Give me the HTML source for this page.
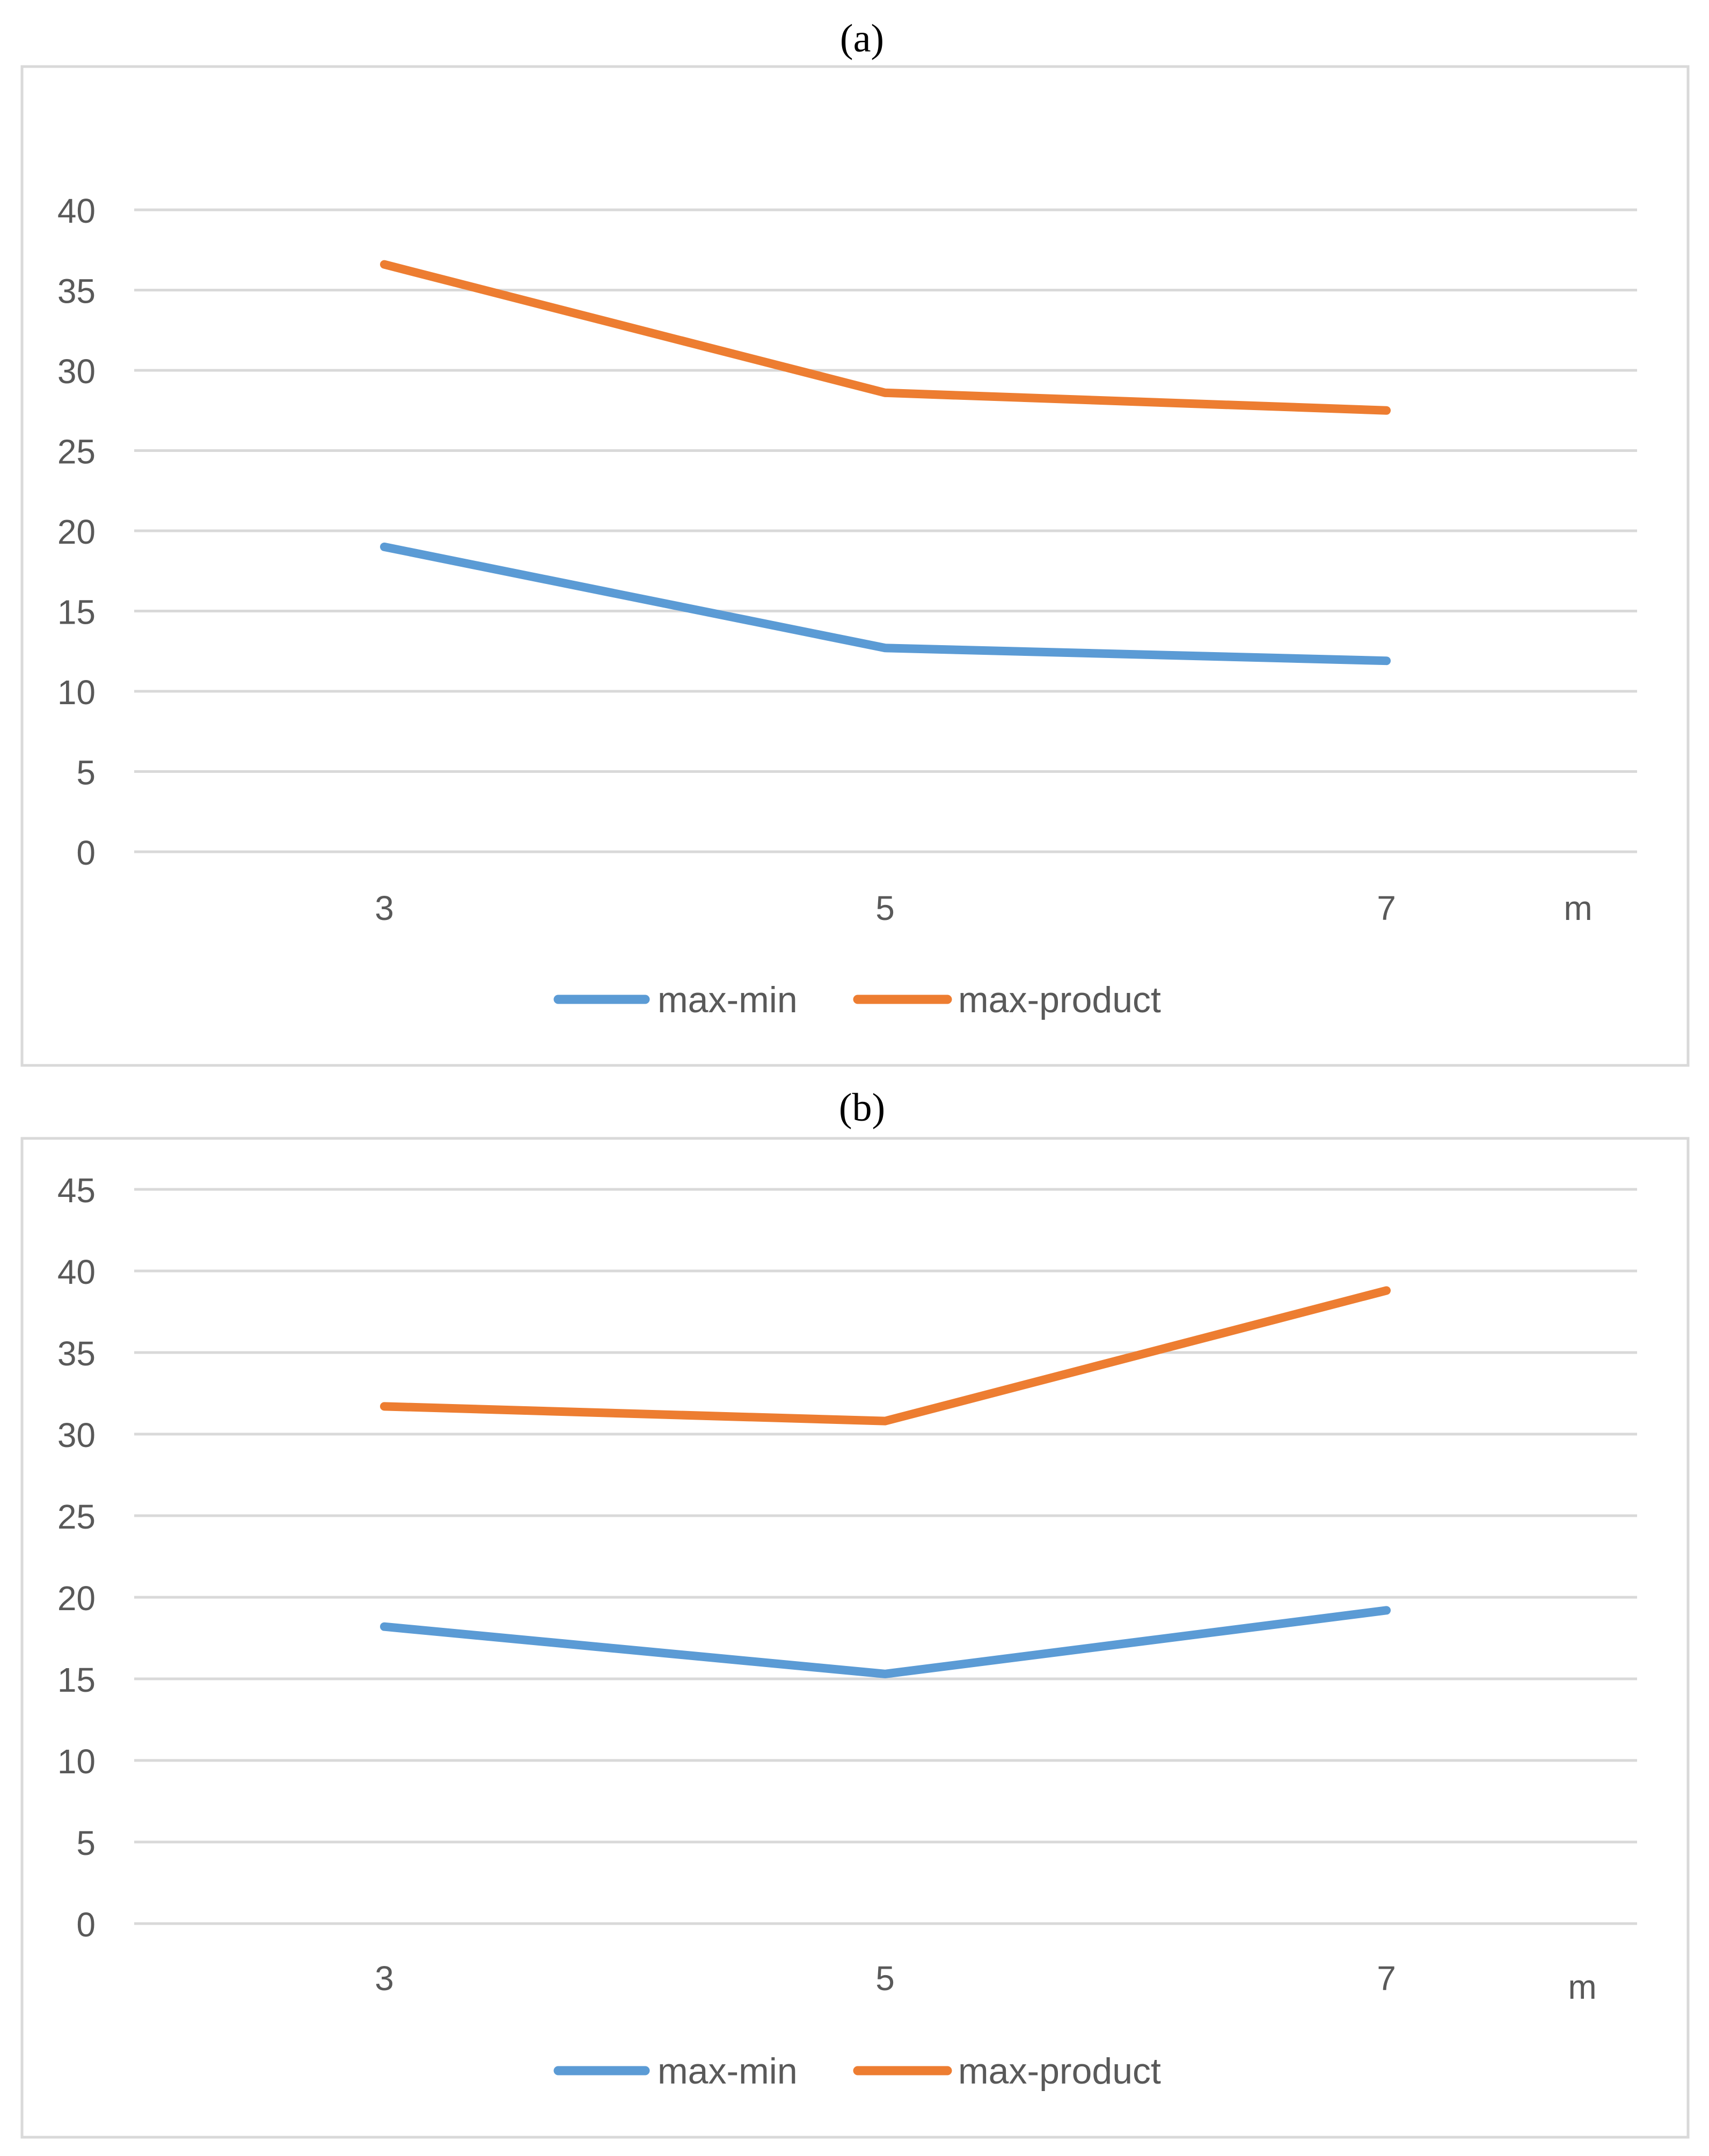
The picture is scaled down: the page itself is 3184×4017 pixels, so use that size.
<!DOCTYPE html>
<html><head><meta charset="utf-8"><style>
html,body{margin:0;padding:0;background:#fff;}
svg{display:block;}
</style></head><body>
<svg id="chart" width="3184" height="4017" viewBox="0 0 3184 4017" xmlns="http://www.w3.org/2000/svg"></svg>
<script>
const categories = ["3","5","7"];
const seriesNames = ["max-min","max-product"];
const aMaxMin = [19.0, 12.7, 11.9];
const aMaxProduct = [36.6, 28.6, 27.5];
const bMaxMin = [18.2, 15.3, 19.2];
const bMaxProduct = [31.7, 30.8, 38.8];
const aTicks = [0,5,10,15,20,25,30,35,40];
const bTicks = [0,5,10,15,20,25,30,35,40,45];

const NS = "http://www.w3.org/2000/svg";
const svg = document.getElementById('chart');
const colors = ["#5b9bd5","#ed7d31"];
function mk(tag, attrs, parent){
  const e = document.createElementNS(NS, tag);
  for (const k in attrs) e.setAttribute(k, attrs[k]);
  (parent||svg).appendChild(e);
  return e;
}
const xPos = [716, 1649, 2583];
function xScale(i){ return xPos[i]; }

function panel(cfg){
  const g = mk('g', {});
  
  
  const t = mk('text', {x:1606, y:cfg.titleY, 'text-anchor':'middle', 'font-family':'Liberation Serif, serif', 'font-size':74, fill:'#000'}, g);
  t.textContent = cfg.title;
  
  
  const border = mk('rect', {x:cfg.bx, y:cfg.top, width:3104, height:cfg.bottom-cfg.top, fill:'none', stroke:'#d9d9d9', 'stroke-width':5}, g);
  
  
  const yScale = v => cfg.y0 - v * cfg.step/5;
  cfg.ticks.forEach(v=>{
    const l = mk('line', {x1:250, x2:3050, y1:yScale(v), y2:yScale(v), stroke:'#d9d9d9', 'stroke-width':5}, g);
    
    
    const tx = mk('text', {x:178, y:yScale(v)+24, 'text-anchor':'end', 'font-family':'Liberation Sans, sans-serif', 'font-size':64, fill:'#595959'}, g);
    tx.textContent = v;
    
    
  });
  categories.forEach((c,i)=>{
    const tx = mk('text', {x:xScale(i), y:cfg.xLabY, 'text-anchor':'middle', 'font-family':'Liberation Sans, sans-serif', 'font-size':64, fill:'#595959'}, g);
    tx.textContent = c;
    
    
  });
  const m = mk('text', {x:cfg.mX, y:cfg.mY, 'text-anchor':'middle', 'font-family':'Liberation Sans, sans-serif', 'font-size':64, fill:'#595959'}, g);
  m.textContent = 'm';
  
  
  [cfg.s0, cfg.s1].forEach((vals,si)=>{
    const pts = vals.map((v,i)=>xScale(i)+','+yScale(v)).join(' ');
    const pl = mk('polyline', {points:pts, fill:'none', stroke:colors[si], 'stroke-width':16, 'stroke-linecap':'round', 'stroke-linejoin':'round'}, g);
    
    
  });
  const lx = [[1040,1202,1225],[1598,1765,1785]];
  lx.forEach((p,si)=>{
    const ln = mk('line', {x1:p[0], x2:p[1], y1:cfg.legY, y2:cfg.legY, stroke:colors[si], 'stroke-width':17, 'stroke-linecap':'round'}, g);
    
    
    const lt = mk('text', {x:p[2], y:cfg.legY+24, 'font-family':'Liberation Sans, sans-serif', 'font-size':68, fill:'#595959'}, g);
    lt.textContent = seriesNames[si];
    
    
  });
}
panel({id:'chart-a', title:'(a)', titleY:96, bx:41, top:124, bottom:1985, y0:1587, step:149.5, ticks:aTicks, xLabY:1714, mX:2940, mY:1714, legY:1862, s0:aMaxMin, s1:aMaxProduct});
panel({id:'chart-b', title:'(b)', titleY:2088, bx:41, top:2121, bottom:3982, y0:3584, step:152, ticks:bTicks, xLabY:3708, mX:2948, mY:3724, legY:3858, s0:bMaxMin, s1:bMaxProduct});
</script>
</body></html>
